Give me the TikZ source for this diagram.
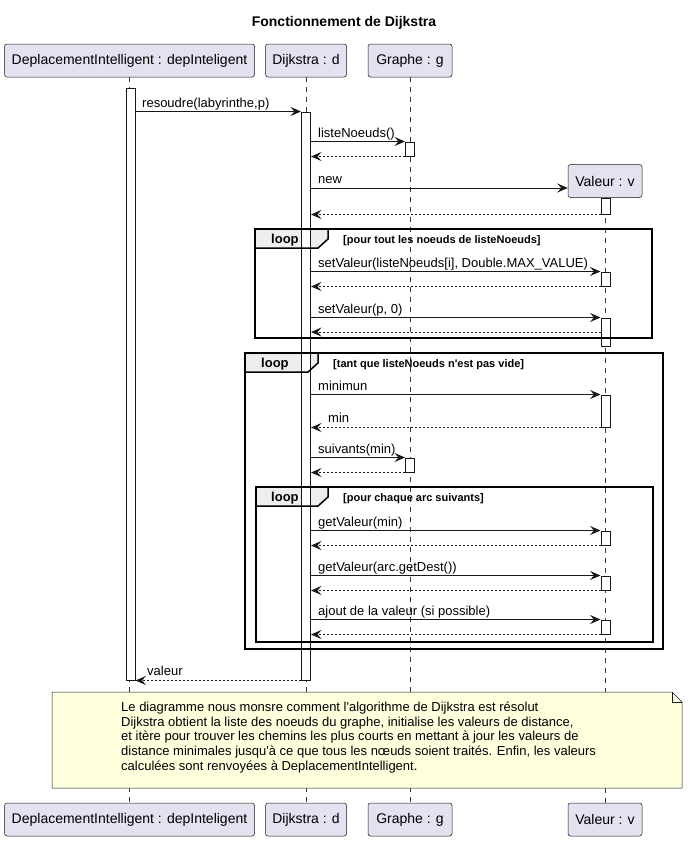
\documentclass[tikz,border=0pt]{standalone}
\usepackage{fontspec}
\setmainfont{Liberation Sans}[Ligatures=TeXOff]
\usetikzlibrary{arrows.meta}
\definecolor{ink}{HTML}{181818}
\definecolor{partfill}{HTML}{E2E2F0}
\definecolor{notefill}{HTML}{FEFFDD}
\definecolor{tabfill}{HTML}{EEEEEE}
\begin{document}
\begin{tikzpicture}[x=1pt,y=-1pt,
  participant/.style={draw=ink,fill=partfill,rounded corners=2.5pt,line width=0.5pt,
    minimum height=33pt,inner sep=0pt,font=\fontsize{14}{16}\selectfont},
  lifeline/.style={draw=ink!85,line width=0.5pt,dash pattern=on 5pt off 5pt},
  act/.style={draw=ink,fill=white,line width=1pt,minimum width=9pt,inner sep=0pt},
  msg/.style={draw=ink,line width=1pt,-{Stealth[length=10.5pt,width=9pt,inset=4pt]}},
  ret/.style={msg,dash pattern=on 2pt off 2pt},
  lbl/.style={anchor=base west,inner sep=0pt,font=\fontsize{13}{15}\selectfont},
  grpframe/.style={draw=black,line width=1.5pt},
  looptab/.style={fill=tabfill},
  looptxt/.style={anchor=base west,inner sep=0pt,font=\bfseries\fontsize{13}{15}\selectfont},
  guard/.style={anchor=base west,inner sep=0pt,font=\bfseries\fontsize{11}{13}\selectfont},
  notebox/.style={draw=ink,fill=notefill,line width=0.5pt},
]
\useasboundingbox (0,0) rectangle (689,841);

% title
\node[font=\bfseries\fontsize{14}{16}\selectfont] (title) at (344,23) {Fonctionnement de Dijkstra};

% participants, top and bottom
\node[participant,minimum width=250pt] (pA) at (129.5,60.5) {DeplacementIntelligent : depInteligent};
\node[participant,minimum width=81pt] (pD) at (306,60.5) {Dijkstra : d};
\node[participant,minimum width=84pt] (pG) at (410,60.5) {Graphe : g};
\node[participant,minimum width=74pt] (pV) at (605,181) {Valeur : v};
\node[participant,minimum width=250pt] (pAb) at (129.5,819.5) {DeplacementIntelligent : depInteligent};
\node[participant,minimum width=81pt] (pDb) at (306,819.5) {Dijkstra : d};
\node[participant,minimum width=84pt] (pGb) at (410,819.5) {Graphe : g};
\node[participant,minimum width=74pt] (pVb) at (605,819.5) {Valeur : v};

% lifelines
\draw[lifeline] (pA.south) -- (pAb.north);
\draw[lifeline] (pD.south) -- (pDb.north);
\draw[lifeline] (pG.south) -- (pGb.north);
\draw[lifeline] (pV.south) -- (pVb.north);

% loop tabs (fill only, outlines come later)
\fill[looptab] (255,229) -- (328,229) -- (328,239) -- (318,248) -- (255,248) -- cycle;
\fill[looptab] (245,353) -- (318,353) -- (318,363) -- (308,372) -- (245,372) -- cycle;
\fill[looptab] (256,487) -- (328,487) -- (328,497) -- (318,506) -- (256,506) -- cycle;

% activation bars
\node[act,minimum height=592pt] (aA) at (130.5,384) {};
\node[act,minimum height=568pt] (aD) at (306,396) {};
\node[act,minimum height=14pt] (aG1) at (410,149) {};
\node[act,minimum height=14pt] (aG2) at (410,465) {};
\node[act,minimum height=16pt] (aV1) at (605.5,206) {};
\node[act,minimum height=14pt] (aV2) at (605.5,279) {};
\node[act,minimum height=28pt] (aV3) at (605.5,332) {};
\node[act,minimum height=32pt] (aV4) at (605.5,411) {};
\node[act,minimum height=14pt] (aV5) at (605.5,538) {};
\node[act,minimum height=14pt] (aV6) at (605.5,583) {};
\node[act,minimum height=14pt] (aV7) at (605.5,627) {};

% loop frames
\draw[grpframe] (255,229) rectangle (652,338);
\draw[grpframe] (328,229) -- (328,239) -- (318,248) -- (255,248);
\node[looptxt] (loop1) at (271,243) {loop};
\node[guard] (g1) at (343,243) {[pour tout les noeuds de listeNoeuds]};

\draw[grpframe] (245,353) rectangle (663,649);
\draw[grpframe] (318,353) -- (318,363) -- (308,372) -- (245,372);
\node[looptxt] (loop2) at (261,367) {loop};
\node[guard] (g2) at (333,367) {[tant que listeNoeuds n'est pas vide]};

\draw[grpframe] (256,487) rectangle (653,642);
\draw[grpframe] (328,487) -- (328,497) -- (318,506) -- (256,506);
\node[looptxt] (loop3) at (271,501) {loop};
\node[guard] (g3) at (343,501) {[pour chaque arc suivants]};

% messages
\draw[msg] (aA.east |- aD.north) -- (aD.north west);
\node[lbl] (m1) at (142,107) {resoudre(labyrinthe,p)};

\draw[msg] (aD.east |- aG1.north) -- (aG1.north west);
\node[lbl] (m2) at (318,137) {listeNoeuds()};
\draw[ret] (aG1.south west) -- (aD.east |- aG1.south);

\coordinate (newEnd) at ([yshift=-7pt]pV.west);
\draw[msg] (aD.east |- newEnd) -- (newEnd);
\node[lbl] (m3) at (318,183) {new};
\draw[ret] (aV1.south west) -- (aD.east |- aV1.south);

\draw[msg] (aD.east |- aV2.north) -- (aV2.north west);
\node[lbl] (m4) at (318,267) {setValeur(listeNoeuds[i], Double.MAX\_VALUE)};
\draw[ret] (aV2.south west) -- (aD.east |- aV2.south);

\draw[msg] (aD.east |- aV3.north) -- (aV3.north west);
\node[lbl] (m5) at (318,313) {setValeur(p, 0)};
\draw[ret] (aV3.west |- 0,332) -- (aD.east |- 0,332);

\draw[msg] (aD.east |- aV4.north) -- (aV4.north west);
\node[lbl] (m6) at (318,390) {minimun};
\draw[ret] (aV4.south west) -- (aD.east |- aV4.south);
\node[lbl] (m7) at (328,422) {min};

\draw[msg] (aD.east |- aG2.north) -- (aG2.north west);
\node[lbl] (m8) at (318,453) {suivants(min)};
\draw[ret] (aG2.south west) -- (aD.east |- aG2.south);

\draw[msg] (aD.east |- aV5.north) -- (aV5.north west);
\node[lbl] (m9) at (318,526) {getValeur(min)};
\draw[ret] (aV5.south west) -- (aD.east |- aV5.south);

\draw[msg] (aD.east |- aV6.north) -- (aV6.north west);
\node[lbl] (m10) at (318,571) {getValeur(arc.getDest())};
\draw[ret] (aV6.south west) -- (aD.east |- aV6.south);

\draw[msg] (aD.east |- aV7.north) -- (aV7.north west);
\node[lbl] (m11) at (318,615) {ajout de la valeur (si possible)};
\draw[ret] (aV7.south west) -- (aD.east |- aV7.south);

\draw[ret] (aD.south west) -- (aA.east |- aD.south);
\node[lbl] (m12) at (147,675) {valeur};

% note
\draw[notebox] (52,692) -- (672,692) -- (682,702) -- (682,788) -- (52,788) -- cycle;
\draw[notebox,fill=none] (672,692) -- (672,702) -- (682,702);
\node[anchor=north west,inner sep=0pt,align=left,font=\fontsize{13}{14.8}\selectfont] (noteText) at (121,701.5)
  {Le diagramme nous monsre comment l'algorithme de Dijkstra est résolut\\
   Dijkstra obtient la liste des noeuds du graphe, initialise les valeurs de distance,\\
   et itère pour trouver les chemins les plus courts en mettant à jour les valeurs de\\
   distance minimales jusqu'à ce que tous les nœuds soient traités. Enfin, les valeurs\\
   calculées sont renvoyées à DeplacementIntelligent.};
\end{tikzpicture}
\end{document}
